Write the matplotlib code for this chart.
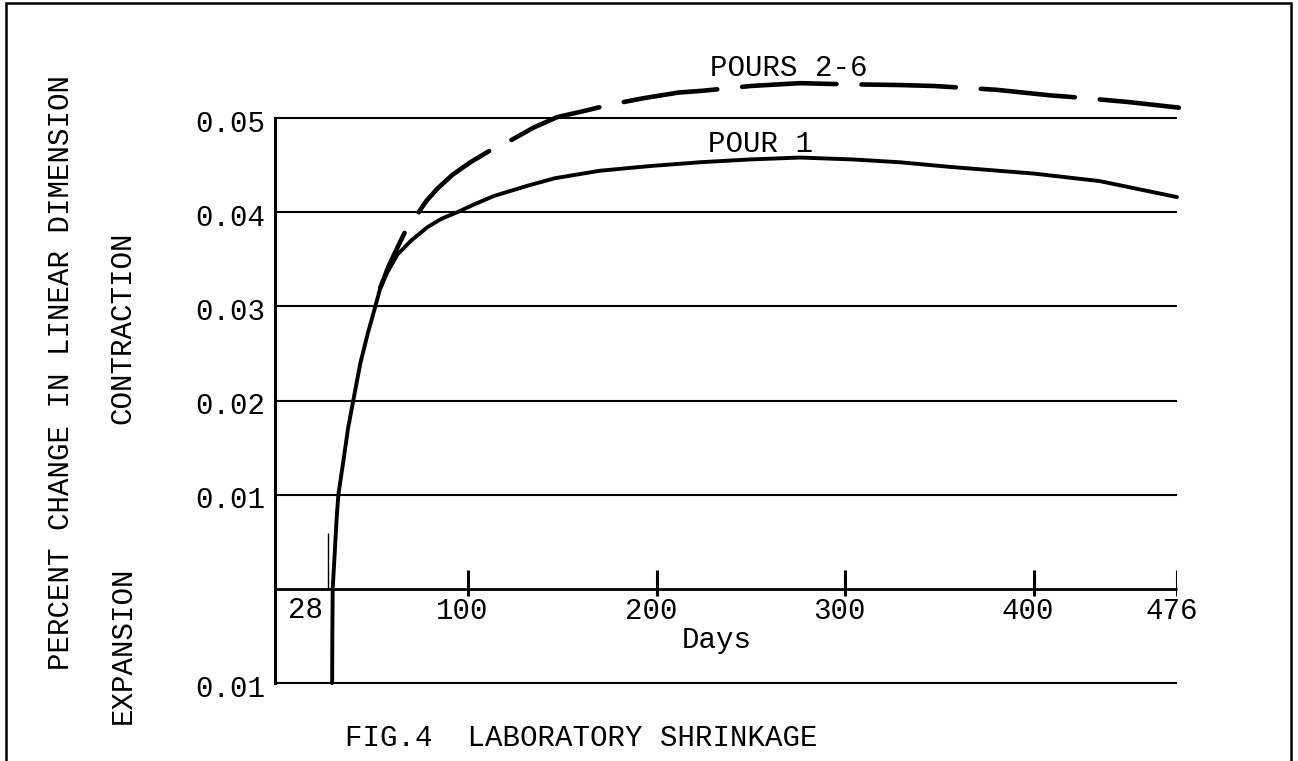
import matplotlib

matplotlib.use("Agg")
import matplotlib.pyplot as plt
import matplotlib.transforms as mtransforms
from matplotlib.patches import Rectangle

plt.rcParams["font.family"] = ["Liberation Mono", "DejaVu Sans Mono"]
plt.rcParams["lines.scale_dashes"] = False

# data
pour1_days = [28, 28.1, 28.3, 29.0, 29.7, 30.4, 31.3, 33.9, 36.4, 39.2, 43, 47, 50.9,
              53.6, 57.5, 62.6, 70, 78.5, 86, 94.4, 103, 113.5, 131.5, 146, 170, 196.7,
              223, 249.7, 276, 304, 329, 356, 400, 435, 476]
pour1_vals = [-0.0100, -0.005, 0.0, 0.0025, 0.005, 0.0075, 0.010, 0.0135, 0.0170, 0.0200,
              0.0240, 0.0272, 0.0300, 0.0320, 0.0337, 0.0355, 0.0370, 0.0384, 0.0393,
              0.0400, 0.0408, 0.0417, 0.0428, 0.0436, 0.0444, 0.0449, 0.0453, 0.0456,
              0.0458, 0.0456, 0.0453, 0.0448, 0.0441, 0.0433, 0.0416]

pours26_days = [53.6, 58, 64.2, 67.9, 73.2, 78, 83.8, 92, 101.3, 105.5, 113, 122.5, 135,
                147.4, 160.7, 175, 193, 211.6, 224.8, 250, 276, 296, 329, 347, 380, 409,
                422, 450, 477]
pours26_vals = [0.0320, 0.0343, 0.0369, 0.0384, 0.0398, 0.0412, 0.0425, 0.0440, 0.0453,
                0.0458, 0.0467, 0.0476, 0.0490, 0.0501, 0.0507, 0.0514, 0.0521, 0.0527,
                0.0529, 0.0534, 0.0537, 0.0536, 0.0535, 0.0534, 0.0530, 0.0524, 0.0522,
                0.0517, 0.0511]

grid_vals = [-0.01, 0.01, 0.02, 0.03, 0.04, 0.05]
ytick_vals = [-0.01, 0.01, 0.02, 0.03, 0.04, 0.05]
ytick_labels = ["0.01", "0.01", "0.02", "0.03", "0.04", "0.05"]
xtick_days = [100, 200, 300, 400, 476]
xtick_labels = ["100", "200", "300", "400", "476"]

X_LEFT, X_END = -2.3, 476
FS = 21

fig = plt.figure(figsize=(12.98, 7.61), dpi=100)
ax = fig.add_axes([275 / 1298, 78 / 761, 902 / 1298, 565 / 761])
ax.set_xlim(X_LEFT, X_END)
ax.set_ylim(-0.01, 0.05)
for side in ["top", "right", "bottom"]:
    ax.spines[side].set_visible(False)
ax.spines["left"].set_linewidth(2.2)
ax.set_xticks([])
ax.set_yticks([])

# horizontal rules and the zero axis
ax.hlines(grid_vals, X_LEFT, X_END, color="black", lw=1.5, clip_on=False)
ax.hlines([0.0], X_LEFT, X_END, color="black", lw=2.0, clip_on=False)
ax.vlines(xtick_days, -0.0008, 0.002, color="black", lw=2.2)
ax.vlines([26], 0.0, 0.0059, color="black", lw=1.0)

# curves
ax.plot(pour1_days, pour1_vals, color="black", lw=2.8, solid_capstyle="round",
        solid_joinstyle="round", clip_on=False)
ax.plot(pours26_days, pours26_vals, color="black", lw=3.3, clip_on=False,
        linestyle=(25, (68, 18)), dash_capstyle="round", dash_joinstyle="round")

# tick labels
blend = mtransforms.blended_transform_factory(ax.transAxes, ax.transData)
for v, lab in zip(ytick_vals, ytick_labels):
    ax.text(-10 / 902, v - 0.0006, lab, transform=blend, ha="right", va="center", fontsize=FS)
for d, lab in zip(xtick_days, xtick_labels):
    ax.text(d - 3, -0.0024, lab, ha="center", va="center", fontsize=FS)
ax.text(13.8, -0.0022, "28", ha="center", va="center", fontsize=FS)
ax.text(231.7, -0.0054, "Days", ha="center", va="center", fontsize=FS)

# curve labels
ax.text(270, 0.0553, "POURS 2-6", ha="center", va="center", fontsize=FS, clip_on=False)
ax.text(255, 0.0472, "POUR 1", ha="center", va="center", fontsize=FS)

# figure-level texts
fig.text(61 / 1298, 1 - 373 / 761, "PERCENT CHANGE IN LINEAR DIMENSION", rotation=90,
         ha="center", va="center", fontsize=FS)
fig.text(122 / 1298, 1 - 328 / 761, "CONTRACTION", rotation=90,
         ha="center", va="center", fontsize=FS)
fig.text(123 / 1298, 1 - 645 / 761, "EXPANSION", rotation=90,
         ha="center", va="center", fontsize=FS)
fig.text(581 / 1298, 1 - 738 / 761, "FIG.4  LABORATORY SHRINKAGE",
         ha="center", va="center", fontsize=FS)

# outer frame of the scanned page
fig.patches.append(Rectangle((6 / 1298, -0.05), 1285 / 1298, 1 - 3 / 761 + 0.05,
                             transform=fig.transFigure, fill=False, lw=1.8,
                             edgecolor="black"))

fig.savefig("out.png", dpi=100)
plt.close(fig)
